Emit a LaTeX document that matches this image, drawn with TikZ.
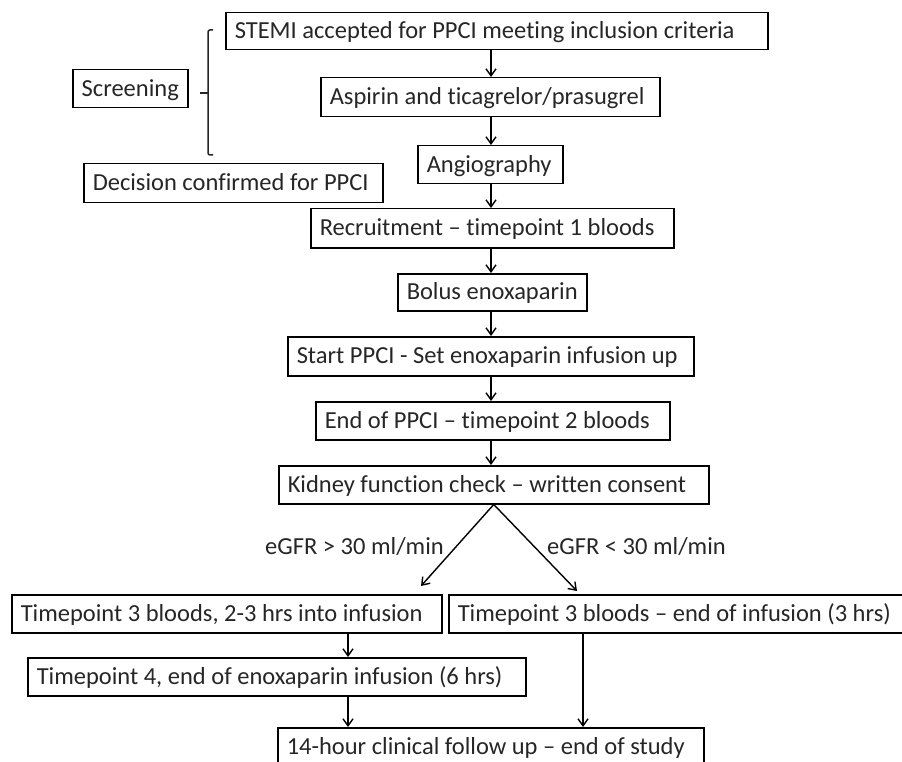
\documentclass[tikz,border=0pt]{standalone}
\usepackage{fontspec}
\setmainfont{Carlito}[Ligatures={TeX,NoCommon}]
\usetikzlibrary{arrows.meta}
\newcommand{\lbx}[2]{\makebox[#1][l]{#2}}
\tikzset{
  box/.style={draw, line width=1.5pt, inner xsep=9pt, inner ysep=0pt,
    text height=19pt, text depth=4pt,
    minimum height=38pt, anchor=north west},
  arr/.style={line width=1.4pt, -{Straight Barb[length=7pt,width=10pt,line width=1.4pt]}},
  lbl/.style={anchor=west, inner sep=0pt},
  every node/.style={font=\fontsize{24.5}{29}\selectfont, text=black!85}
}
\begin{document}
\begin{tikzpicture}[x=1pt,y=-1pt]
\useasboundingbox (0,0) rectangle (902,762);
\clip (0,0) rectangle (902,762);
\fill[white] (0,0) rectangle (902,762);

\node[box, minimum height=37pt] (stemi) at (225,12) {\lbx{524pt}{STEMI accepted for PPCI meeting inclusion criteria}};
\node[box, inner xsep=0pt, minimum width=115pt] (screen) at (72,69) {Screening};
\node[box, minimum height=39pt] (decision) at (83,163) {\lbx{281pt}{Decision confirmed for PPCI}};
\node[box, minimum height=39pt] (aspirin) at (320,77) {\lbx{321pt}{Aspirin and ticagrelor/prasugrel}};
\node[box] (angio) at (417,145) {\lbx{127pt}{Angiography}};
\node[box, minimum height=39pt] (recruit) at (310,208) {\lbx{345pt}{Recruitment – timepoint 1 bloods}};
\node[box, minimum height=37pt] (bolus) at (397,273) {\lbx{171pt}{Bolus enoxaparin}};
\node[box, minimum height=39pt] (start) at (287,336) {\lbx{388pt}{Start PPCI - Set enoxaparin infusion up}};
\node[box] (endppci) at (315,401) {\lbx{336pt}{End of PPCI – timepoint 2 bloods}};
\node[box] (kidney) at (278,465) {\lbx{412pt}{Kidney function check – written consent}};
\node[box] (tpl) at (11,594) {\lbx{412pt}{Timepoint 3 bloods, 2-3 hrs into infusion}};
\node[box] (tpr) at (448,594) {\lbx{439pt}{Timepoint 3 bloods – end of infusion (3 hrs)}};
\node[box] (tpf) at (27,657) {\lbx{480pt}{Timepoint 4, end of enoxaparin infusion (6 hrs)}};
\node[box] (final) at (277,727) {\lbx{408pt}{14-hour clinical follow up – end of study}};

\node[lbl] (lg) at (265,547) {eGFR > 30 ml/min};
\node[lbl] (ll) at (547,547) {eGFR < 30 ml/min};

% bracket
\draw[line width=1.5pt, rounded corners=2pt, black!85] (213,30) -- (208,30) -- (208,155) -- (213,155);
\draw[line width=1.5pt, black!85] (200,93) -- (208,93);

\coordinate (ax) at (491,0);
\coordinate (le) at (421,586);
\coordinate (re) at (577,591);
\coordinate (bx) at (348,0);
\coordinate (cx) at (583,0);

\draw[arr] (stemi.south -| ax) -- (aspirin.north -| ax);
\draw[arr] (aspirin.south -| ax) -- (angio.north -| ax);
\draw[arr] (angio.south -| ax) -- (recruit.north -| ax);
\draw[arr] (recruit.south -| ax) -- (bolus.north -| ax);
\draw[arr] (bolus.south -| ax) -- (start.north -| ax);
\draw[arr] (start.south -| ax) -- (endppci.north -| ax);
\draw[arr] (endppci.south -| ax) -- (kidney.north -| ax);
\draw[arr] (kidney.south) -- (le);
\draw[arr] (kidney.south) -- (re);
\draw[arr] (tpl.south -| bx) -- (tpf.north -| bx);
\draw[arr] (tpf.south -| bx) -- (final.north -| bx);
\draw[arr] (tpr.south -| cx) -- (final.north -| cx);
\end{tikzpicture}
\end{document}
